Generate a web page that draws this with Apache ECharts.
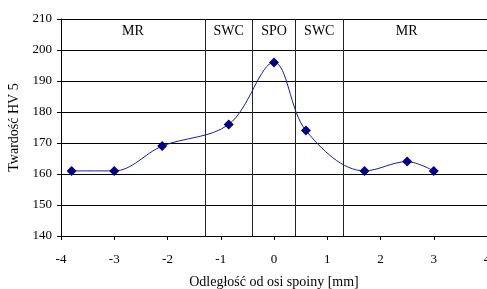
<!DOCTYPE html>
<html><head><meta charset="utf-8">
<script src="https://cdn.jsdelivr.net/npm/echarts@6/dist/echarts.min.js"></script>
<style>html,body{margin:0;padding:0;background:#fff}#c{width:487px;height:289px}</style>
</head><body><div id="c"></div>
<script>
var xValues = [-3.8, -3.0, -2.1, -0.85, 0.0, 0.6, 1.7, 2.5, 3.0];
var hardness = [161, 161, 169, 176, 196, 174, 161, 164, 161];
var zoneLines = [-1.3, -0.4, 0.4, 1.3];
var zoneNames = ['MR', 'SWC', 'SPO', 'SWC', 'MR'];
var zoneStarts = [-4, -1.3, -0.4, 0.4, 1.3];
var zoneEnds = [-1.3, -0.4, 0.4, 1.3, 3.68];

var font = 'Liberation Serif';
var chart = echarts.init(document.getElementById('c'));
var pts = xValues.map(function (x, i) { return [x, hardness[i]]; });
var areas = zoneNames.map(function (n, i) {
  return [{ name: n, xAxis: zoneStarts[i] }, { xAxis: zoneEnds[i] }];
});
chart.setOption({
  animation: false,
  grid: { left: 61, top: 19, right: 0, bottom: 53, containLabel: false, outerBoundsMode: 'none' },
  xAxis: {
    type: 'value', min: -4, max: 4, interval: 1,
    name: 'Odległość od osi spoiny [mm]', nameLocation: 'middle', nameGap: 39,
    nameTextStyle: { fontFamily: font, fontSize: 14, color: '#000' },
    axisLine: { onZero: false, lineStyle: { color: '#000' } },
    axisTick: { show: true, length: 4, lineStyle: { color: '#000' } },
    axisLabel: { fontFamily: font, fontSize: 13, color: '#000', margin: 17 },
    splitLine: { show: false }
  },
  yAxis: {
    type: 'value', min: 140, max: 210, interval: 10,
    name: 'Twardość HV 5', nameLocation: 'middle', nameGap: 37,
    nameTextStyle: { fontFamily: font, fontSize: 14, color: '#000' },
    axisLine: { show: true, onZero: false, lineStyle: { color: '#000' } },
    axisTick: { show: true, length: 4, lineStyle: { color: '#000' } },
    axisLabel: { fontFamily: font, fontSize: 13, color: '#000', margin: 9 },
    splitLine: { show: true, lineStyle: { color: '#000', width: 1 } }
  },
  series: [{
    type: 'line', data: pts, smooth: 0.35,
    symbol: 'diamond', symbolSize: 10,
    lineStyle: { color: '#1a1aa0', width: 1 },
    itemStyle: { color: '#000080' },
    markLine: {
      silent: true, symbol: 'none', label: { show: false },
      lineStyle: { color: '#222', type: 'solid', width: 1 },
      data: zoneLines.map(function (v) { return { xAxis: v }; })
    },
    markArea: {
      silent: true,
      itemStyle: { color: 'rgba(0,0,0,0)' },
      label: { show: true, position: 'insideTop', distance: 5, fontFamily: font, fontSize: 14, color: '#000' },
      data: areas
    }
  }]
});
</script></body></html>
